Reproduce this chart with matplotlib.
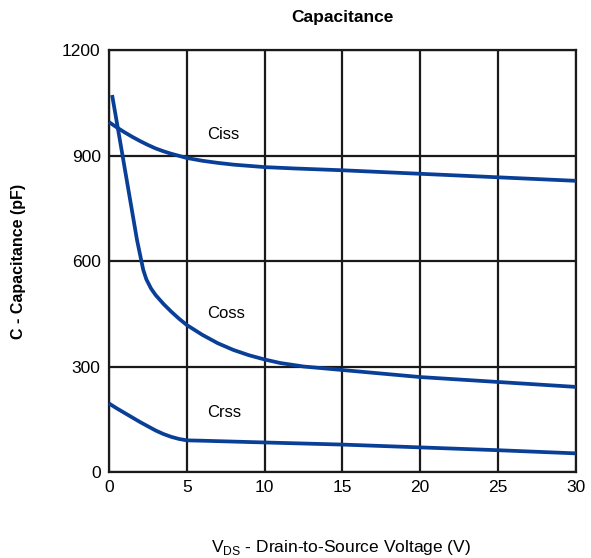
import matplotlib
matplotlib.use("Agg")
import matplotlib.pyplot as plt

plt.rcParams['font.family'] = ['Liberation Sans', 'DejaVu Sans']

# values
ciss_v = [0, 0.5, 1, 1.5, 2, 2.5, 3, 3.5, 4, 4.5, 5, 6, 7, 8, 10, 12, 15, 20, 25, 30]
ciss_c = [995, 980, 966, 953, 941, 930, 920, 912, 905, 899, 893, 885, 879, 874, 867, 863, 858, 848, 838, 828]

coss_v = [0.2, 0.6, 1.2, 1.8, 2.2, 2.4, 2.7, 3, 3.5, 4, 4.5, 5, 6, 7, 8, 9, 10, 11, 12.5, 15, 20, 25, 30]
coss_c = [1072, 970, 815, 660, 575, 548, 522, 503, 478, 456, 436, 418, 390, 366, 347, 332, 320, 310, 300, 290, 270, 256, 242]

crss_v = [0, 0.5, 1, 1.5, 2, 2.5, 3, 3.5, 4, 4.5, 5, 6, 10, 15, 20, 25, 30]
crss_c = [195, 181, 168, 155, 142, 130, 118, 108, 100, 94, 90, 89, 84, 78, 70, 62, 53]

x_ticks = [0, 5, 10, 15, 20, 25, 30]
y_ticks = [0, 300, 600, 900, 1200]

curve_labels = [("Ciss", 6.3, 960), ("Coss", 6.3, 450), ("Crss", 6.3, 168)]

blue = '#0a3f98'

fig = plt.figure(figsize=(5.91, 5.58), dpi=100)
ax = fig.add_axes([0.1844, 0.1541, 0.790, 0.7563])

for v, c in [(ciss_v, ciss_c), (coss_v, coss_c), (crss_v, crss_c)]:
    ax.plot(v, c, color=blue, lw=2.7, solid_capstyle='butt', solid_joinstyle='round',
            zorder=3, clip_on=False)

for name, tx, ty in curve_labels:
    ax.text(tx, ty, name, fontsize=12, va='center', ha='left')

ax.set_xlim(0, 30)
ax.set_ylim(0, 1200)
ax.set_xticks(x_ticks)
ax.set_yticks(y_ticks)
ax.grid(True, color='#1a1a1a', lw=1.6)
ax.set_axisbelow(True)
for s in ax.spines.values():
    s.set_color('#1a1a1a')
    s.set_linewidth(1.6)
ax.tick_params(length=0, labelsize=12.5, pad=6)

ax.set_title('Capacitance', fontsize=12.5, fontweight='bold', pad=20)
ax.set_ylabel('C - Capacitance (pF)', fontsize=11.5, fontweight='bold', labelpad=26)
# x label sits well below the axis, near the bottom edge
fig.text(0.577, 0.018, r'V$_{\mathregular{DS}}$ - Drain-to-Source Voltage (V)',
         fontsize=12.5, ha='center', va='center')

fig.savefig('out.png', dpi=100)
